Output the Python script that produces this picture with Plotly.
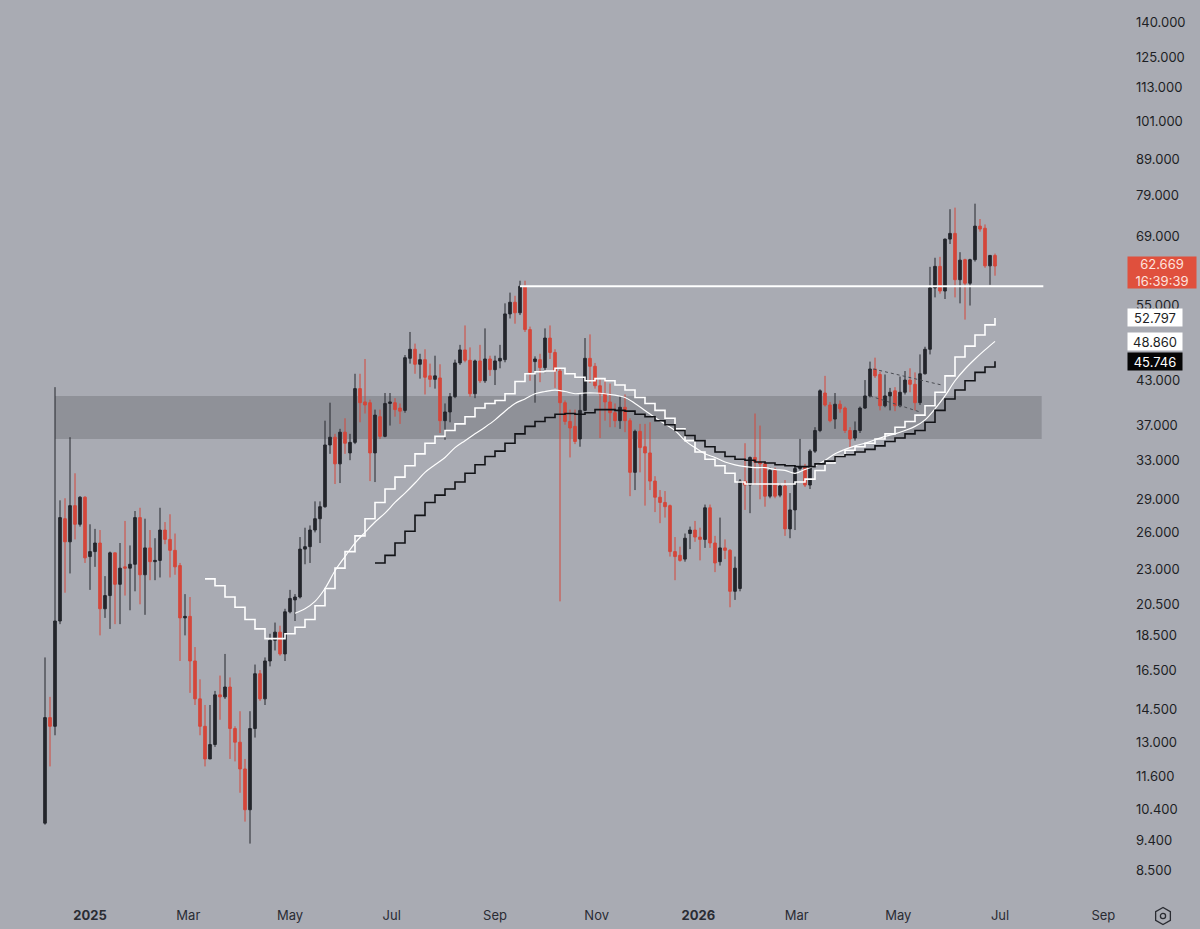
import numpy as np
import pandas as pd
import plotly.graph_objects as go

# ---------------- data ----------------
start_date = "2024-12-05"
period_days = 3

opens = [9.95, 14.1, 13.7, 19.4, 27.2, 25.2, 28.4, 26.7, 29.2, 24.0,
         24.4, 25.1, 20.2, 21.1, 24.3, 21.9, 23.2, 23.1, 23.4, 27.3,
         22.6, 24.7, 23.6, 23.7, 26.2, 25.4, 24.5, 23.3, 19.6, 19.7,
         17.0, 15.0, 13.7, 12.3, 12.9, 15.2, 15.1, 15.6, 13.6, 13.0,
         11.9, 10.4, 13.6, 16.3, 15.0, 17.0, 18.2, 18.7, 17.4, 20.0,
         20.8, 21.0, 24.6, 24.8, 26.2, 27.2, 28.3, 34.7, 35.6, 32.6,
         36.2, 33.8, 35.0, 41.8, 40.0, 39.9, 33.8, 38.1, 35.7, 39.8,
         39.9, 39.2, 38.9, 46.2, 47.6, 45.3, 46.0, 43.6, 43.1, 43.3,
         37.6, 38.7, 40.7, 45.5, 47.5, 45.9, 41.1, 45.8, 42.9, 46.1,
         44.5, 45.8, 46.0, 53.5, 55.6, 53.7, 58.6, 50.8, 45.7, 46.0,
         44.8, 49.4, 47.1, 44.3, 39.9, 37.5, 36.9, 35.4, 38.9, 46.2,
         45.0, 42.2, 41.1, 40.0, 38.6, 37.6, 39.3, 37.6, 31.7, 36.3,
         34.5, 33.8, 30.8, 29.2, 28.7, 28.4, 24.4, 24.1, 23.8, 25.9,
         26.2, 25.6, 25.4, 28.2, 25.1, 23.6, 24.7, 24.5, 21.4, 21.6,
         30.8, 30.4, 33.3, 32.8, 32.6, 29.3, 31.9, 29.4, 30.3, 26.3,
         28.0, 32.1, 32.3, 30.4, 34.0, 36.4, 41.2, 39.6, 37.8, 39.7,
         39.2, 36.4, 35.5, 36.4, 39.2, 40.8, 44.6, 43.8, 39.5, 40.8,
         41.5, 39.5, 41.3, 43.0, 42.4, 39.9, 43.9, 47.6, 58.3, 62.6,
         57.7, 68.5, 69.8, 59.9, 64.0, 59.2, 64.0, 71.5, 71.0, 62.7,
         64.9]
highs = [17.2, 15.1, 42.0, 28.9, 29.1, 35.6, 31.6, 29.3, 29.3, 26.7,
         26.3, 26.2, 22.5, 24.4, 24.3, 25.1, 27.0, 24.9, 27.9, 28.2,
         27.2, 26.2, 25.5, 28.2, 26.9, 27.6, 25.9, 23.5, 21.2, 21.0,
         17.8, 16.0, 14.7, 14.7, 15.4, 16.2, 17.4, 16.1, 13.7, 14.4,
         12.3, 14.4, 16.8, 16.5, 17.2, 18.6, 19.3, 19.1, 20.2, 21.5,
         21.2, 25.6, 26.4, 26.6, 28.8, 28.8, 37.6, 39.9, 36.0, 36.6,
         37.9, 36.0, 43.9, 43.9, 46.1, 40.3, 39.0, 39.0, 41.2, 41.2,
         40.5, 39.8, 46.7, 50.4, 48.5, 46.9, 47.6, 45.4, 46.6, 45.3,
         39.8, 41.2, 46.0, 48.3, 51.5, 47.9, 46.0, 48.3, 51.0, 46.6,
         46.6, 48.3, 55.4, 57.4, 56.8, 59.7, 59.7, 51.3, 46.5, 46.9,
         51.0, 51.5, 47.6, 44.6, 40.2, 39.0, 39.0, 41.0, 49.4, 50.0,
         45.5, 43.1, 43.1, 42.5, 39.8, 40.8, 41.0, 37.9, 36.5, 37.2,
         37.2, 37.4, 31.3, 29.9, 29.8, 28.5, 25.6, 24.8, 25.9, 26.5,
         27.0, 26.4, 28.5, 28.5, 25.7, 27.3, 25.4, 24.6, 24.0, 31.0,
         34.9, 33.4, 38.5, 37.0, 32.9, 32.2, 32.2, 30.6, 30.9, 29.6,
         32.4, 35.4, 32.6, 34.2, 36.8, 41.7, 43.6, 40.0, 41.2, 40.2,
         39.4, 36.8, 37.5, 39.4, 43.0, 45.7, 46.3, 44.2, 43.8, 41.9,
         42.0, 43.5, 44.3, 44.7, 44.1, 46.8, 48.0, 62.5, 64.4, 64.6,
         68.6, 75.6, 76.0, 65.6, 64.2, 64.2, 77.0, 73.2, 71.9, 65.0,
         65.3]
lows = [9.9, 12.0, 13.3, 19.2, 21.3, 22.7, 25.4, 26.5, 23.5, 21.5,
        23.2, 18.5, 19.6, 18.9, 19.2, 19.2, 21.1, 20.1, 21.4, 20.5,
        19.8, 22.2, 22.2, 22.4, 25.0, 22.4, 22.6, 17.0, 18.5, 15.3,
        14.7, 13.3, 12.0, 12.3, 12.8, 14.0, 15.0, 12.3, 12.2, 11.0,
        10.0, 9.3, 13.2, 14.9, 14.7, 16.7, 17.6, 17.3, 17.0, 19.9,
        19.4, 20.9, 23.4, 23.5, 26.0, 25.1, 28.2, 33.7, 30.5, 30.6,
        33.7, 33.0, 34.8, 37.4, 38.5, 30.8, 30.7, 35.4, 35.6, 37.0,
        38.1, 37.2, 38.6, 45.4, 43.9, 43.2, 41.0, 42.0, 41.8, 36.1,
        35.3, 37.4, 40.5, 45.2, 45.6, 40.7, 40.5, 42.6, 42.6, 43.6,
        42.3, 44.7, 45.6, 52.7, 51.8, 53.3, 50.4, 42.9, 39.9, 42.7,
        44.0, 46.1, 41.9, 20.7, 37.1, 33.3, 34.8, 34.5, 38.8, 42.6,
        41.8, 35.5, 37.6, 36.8, 36.8, 36.6, 36.2, 29.3, 29.9, 31.7,
        28.4, 29.9, 27.8, 26.8, 27.3, 24.0, 22.2, 23.6, 23.6, 24.6,
        25.2, 23.7, 24.7, 24.7, 22.8, 23.3, 23.8, 20.3, 20.8, 21.4,
        28.0, 27.7, 30.4, 29.0, 28.3, 29.1, 29.1, 29.2, 25.7, 25.5,
        26.2, 31.9, 30.2, 30.0, 33.8, 36.2, 39.4, 37.4, 36.6, 38.6,
        36.1, 34.4, 35.2, 36.1, 39.1, 40.6, 43.3, 38.9, 39.3, 38.9,
        38.8, 39.3, 41.0, 41.3, 38.9, 39.6, 43.8, 46.8, 56.5, 57.2,
        56.2, 67.4, 56.5, 55.4, 52.5, 55.0, 63.6, 70.2, 62.3, 58.9,
        60.7]
closes = [14.1, 13.7, 19.4, 27.3, 25.2, 28.4, 26.7, 29.2, 23.9, 24.4,
          25.1, 20.2, 21.1, 24.3, 21.9, 23.1, 23.1, 23.4, 27.3, 22.6,
          24.7, 23.6, 23.7, 26.2, 25.4, 24.5, 23.2, 19.6, 19.7, 17.0,
          15.0, 13.7, 12.3, 12.9, 15.2, 15.1, 15.6, 13.6, 13.0, 11.9,
          10.4, 13.6, 16.3, 15.0, 17.0, 18.2, 18.7, 17.4, 20.0, 20.9,
          21.0, 24.6, 24.8, 26.2, 27.2, 28.3, 34.7, 35.6, 32.6, 36.2,
          34.9, 35.0, 41.8, 39.9, 39.6, 33.8, 38.3, 35.7, 39.8, 40.0,
          39.0, 38.8, 46.3, 47.6, 45.3, 46.0, 43.4, 43.1, 43.6, 37.6,
          38.7, 40.7, 45.5, 47.5, 45.9, 41.1, 45.8, 42.9, 46.1, 44.5,
          45.8, 46.2, 53.5, 55.6, 53.7, 58.6, 50.8, 44.1, 46.1, 44.8,
          49.4, 47.1, 44.3, 39.9, 37.5, 36.7, 35.1, 38.9, 46.2, 45.0,
          42.2, 41.1, 40.0, 38.6, 37.6, 39.3, 37.6, 31.7, 36.3, 34.4,
          33.8, 30.8, 29.2, 28.7, 28.3, 24.4, 24.0, 23.7, 25.5, 26.2,
          25.6, 25.4, 28.2, 25.1, 23.5, 24.7, 24.5, 21.4, 23.1, 30.8,
          30.4, 33.3, 32.8, 32.6, 29.3, 31.9, 29.3, 30.3, 26.3, 28.0,
          32.1, 32.3, 30.4, 34.0, 36.4, 41.5, 39.6, 37.6, 39.7, 39.1,
          36.4, 35.4, 36.4, 39.2, 40.8, 44.6, 43.6, 39.5, 40.8, 41.3,
          39.5, 41.3, 43.0, 42.4, 39.9, 43.9, 47.6, 58.3, 62.6, 57.7,
          68.5, 69.8, 59.9, 63.9, 59.2, 64.0, 71.5, 70.8, 62.7, 64.9,
          62.669]

# moving averages, sampled every 2 candles from the given candle index
ma_step = 2
ma_fast_start = 32
ma_fast = [22.3, 21.8, 21.0, 20.3, 19.5, 18.9, 18.3, 18.3, 18.6, 19.0,
           19.5, 20.4, 21.6, 23.1, 24.4, 25.7, 27.2, 28.7, 30.0, 31.2,
           32.4, 33.7, 34.9, 35.7, 36.4, 37.2, 38.1, 39.2, 39.8, 40.2,
           41.1, 42.8, 43.9, 44.2, 44.3, 44.7, 43.9, 43.4, 42.9, 43.2,
           42.9, 42.3, 41.6, 40.6, 39.8, 38.9, 37.9, 36.6, 35.2, 33.9,
           33.1, 32.4, 31.6, 30.7, 30.5, 30.5, 30.5, 30.5, 30.5, 30.7,
           31.0, 31.9, 32.7, 33.5, 34.1, 34.5, 34.9, 35.4, 36.0, 36.8,
           37.5, 38.3, 39.5, 41.3, 43.6, 46.4, 48.1, 49.9, 51.6, 52.797]
ma_mid_start = 50
ma_mid = [19.9, 20.2, 20.7, 21.6, 22.9, 24.0, 25.1, 26.0, 26.9, 27.7,
          28.7, 29.6, 30.6, 31.7, 32.5, 33.3, 34.4, 35.2, 36.0, 36.8,
          37.7, 38.8, 39.8, 40.4, 41.1, 41.4, 41.6, 41.4, 41.1, 41.2,
          41.2, 41.1, 40.9, 40.6, 39.8, 38.9, 38.0, 37.2, 36.4, 35.2,
          34.4, 33.7, 33.3, 32.8, 32.5, 32.3, 32.2, 32.2, 32.0, 31.9,
          31.6, 32.0, 32.4, 33.0, 33.7, 34.2, 34.6, 34.9, 35.3, 35.7,
          36.0, 36.4, 36.9, 37.7, 39.1, 40.8, 42.9, 44.6, 46.1, 47.5,
          48.86]
ma_slow_start = 66
ma_slow = [23.5, 24.1, 25.1, 26.1, 27.5, 28.7, 29.4, 30.0, 30.7, 31.6,
           32.5, 33.4, 34.0, 34.9, 36.0, 36.9, 37.5, 38.0, 38.4, 38.5,
           38.4, 38.6, 39.0, 39.0, 38.9, 38.8, 38.4, 38.1, 37.6, 37.1,
           36.4, 35.8, 35.2, 34.5, 33.9, 33.4, 33.1, 33.0, 32.8, 32.7,
           32.5, 32.4, 32.3, 32.3, 32.6, 32.9, 33.4, 33.6, 33.9, 34.2,
           34.6, 35.1, 35.5, 36.0, 36.4, 37.4, 38.9, 40.4, 41.6, 42.9,
           44.1, 44.9, 45.746]

zone_dates = ["2024-12-11", "2026-07-26"]
zone_low, zone_high = 35.4, 40.8
resistance_dates = ["2025-09-16", "2026-07-27"]
resistance_level = 58.6
tri_upper_dates = ["2026-04-16", "2026-05-27"]
tri_upper_vals = [44.6, 42.3]
tri_lower_dates = ["2026-04-14", "2026-05-14"]
tri_lower_vals = [40.8, 38.7]

last_price = 62.669
countdown = "16:39:39"

y_tick_vals = [140, 125, 113, 101, 89, 79, 69, 55, 43, 37, 33, 29, 26, 23,
               20.5, 18.5, 16.5, 14.5, 13, 11.6, 10.4, 9.4, 8.5]
x_tick_dates = ["2025-01-01", "2025-03-01", "2025-05-01", "2025-07-01",
                "2025-09-01", "2025-11-01", "2026-01-01", "2026-03-01",
                "2026-05-01", "2026-07-01", "2026-09-01"]
x_tick_text = ["<b>2025</b>", "Mar", "May", "Jul", "Sep", "Nov",
               "<b>2026</b>", "Mar", "May", "Jul", "Sep"]

# ---------------- style ----------------
BG = "#a9abb3"
ZONE = "#8f9198"
DARK = "#24262c"
RED = "#d4473b"
TXT = "#1d1f25"
FONT = "Inter"
W, H = 1200, 929
MR, MB = 80, 31
PW, PH = W - MR, H - MB

dates = pd.date_range(start_date, periods=len(opens), freq=f"{period_days}D")


def ma_x(start, vals):
    return dates[start:start + ma_step * len(vals):ma_step]


fig = go.Figure()

# support/resistance zone (below the candles)
fig.add_shape(type="rect", xref="x", yref="y",
              x0=zone_dates[0], x1=zone_dates[1], y0=zone_low, y1=zone_high,
              fillcolor=ZONE, line=dict(width=0), layer="below")

# candles
fig.add_trace(go.Candlestick(
    x=dates, open=opens, high=highs, low=lows, close=closes,
    increasing=dict(line=dict(color=DARK, width=1), fillcolor=DARK),
    decreasing=dict(line=dict(color=RED, width=1), fillcolor=RED),
    whiskerwidth=0, hoverinfo="skip", showlegend=False))

# moving averages
fig.add_trace(go.Scatter(x=ma_x(ma_fast_start, ma_fast), y=ma_fast, mode="lines",
                         line=dict(color="white", width=1.6, shape="hv"),
                         hoverinfo="skip", showlegend=False))
fig.add_trace(go.Scatter(x=ma_x(ma_mid_start, ma_mid), y=ma_mid, mode="lines",
                         line=dict(color="white", width=1.2, shape="spline"),
                         hoverinfo="skip", showlegend=False))
fig.add_trace(go.Scatter(x=ma_x(ma_slow_start, ma_slow), y=ma_slow, mode="lines",
                         line=dict(color="#111216", width=1.6, shape="hv"),
                         hoverinfo="skip", showlegend=False))

# resistance line
fig.add_trace(go.Scatter(x=resistance_dates, y=[resistance_level] * 2, mode="lines",
                         line=dict(color="white", width=2),
                         hoverinfo="skip", showlegend=False))
# triangle dotted lines
for dx, vy in ((tri_upper_dates, tri_upper_vals), (tri_lower_dates, tri_lower_vals)):
    fig.add_trace(go.Scatter(x=dx, y=vy, mode="lines",
                             line=dict(color="#4a4c52", width=1, dash="dot"),
                             hoverinfo="skip", showlegend=False))

# price labels on the axis
labels = [
    (last_price, f"{last_price:.3f}<br>{countdown}", "#e0503d", "#ffe3dd", 64, 27, -6),
    (ma_fast[-1], f"{ma_fast[-1]:.3f}", "white", TXT, 50, 13, 0),
    (ma_mid[-1], f"{ma_mid[-1]:.3f}", "white", TXT, 50, 13, 0),
    (ma_slow[-1], f"{ma_slow[-1]:.3f}", "#050505", "white", 50, 13, 0),
]
for val, txt, bg, fg, w, h, ys in labels:
    fig.add_annotation(x=1, xref="paper", xanchor="left", xshift=7,
                       y=np.log10(val), yref="y", yanchor="middle", yshift=ys,
                       text=txt, showarrow=False, bgcolor=bg, borderpad=2,
                       width=w, height=h, align="center",
                       font=dict(family=FONT, size=13, color=fg))

# settings icon (hexagon) below the price axis
cx, cy, r = 1163, 916, 8.5
ang = np.deg2rad(90 + 60 * np.arange(7))
px = (cx + r * np.cos(ang)) / PW
py = (PH - (cy - r * np.sin(ang))) / PH
path = "M " + " L ".join(f"{a:.5f},{b:.5f}" for a, b in zip(px, py)) + " Z"
fig.add_shape(type="path", path=path, xref="paper", yref="paper",
              line=dict(color="#2a2c32", width=1.3))
fig.add_shape(type="circle", xref="paper", yref="paper",
              x0=(cx - 2.6) / PW, x1=(cx + 2.6) / PW,
              y0=(PH - cy - 2.6) / PH, y1=(PH - cy + 2.6) / PH,
              line=dict(color="#2a2c32", width=1.3))

fig.update_layout(
    width=W, height=H,
    margin=dict(l=0, r=MR, t=0, b=MB),
    paper_bgcolor=BG, plot_bgcolor=BG,
    boxgap=0.25, hovermode=False,
    font=dict(family=FONT, color=TXT, size=13),
    xaxis=dict(type="date", range=["2024-11-08", "2026-09-11"],
               showgrid=False, zeroline=False, showline=False,
               rangeslider=dict(visible=False),
               tickmode="array", tickvals=x_tick_dates, ticktext=x_tick_text,
               ticks="", ticklabelstandoff=8,
               tickfont=dict(family=FONT, size=13, color="#2a2c33")),
    yaxis=dict(type="log", side="right",
               range=[np.log10(7.77), np.log10(150.9)],
               showgrid=False, zeroline=False, showline=False,
               tickmode="array", tickvals=y_tick_vals,
               ticktext=[f"{v:.3f}" for v in y_tick_vals],
               ticks="", ticklabelstandoff=15,
               tickfont=dict(family=FONT, size=13, color=TXT)),
)

fig.write_html("out.html")
